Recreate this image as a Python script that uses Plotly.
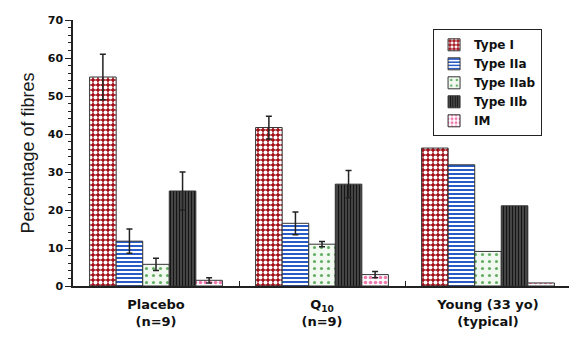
import plotly.graph_objects as go

categories = ["<b>Placebo</b><br><b>(n=9)</b>", "<b>Q<sub>10</sub></b><br><b>(n=9)</b>", "<b>Young (33 yo)</b><br><b>(typical)</b>"]
series_names = ["Type I", "Type IIa", "Type IIab", "Type IIb", "IM"]
type_i = [55.0, 41.7, 36.3]
type_iia = [11.8, 16.5, 31.9]
type_iiab = [5.7, 11.0, 9.1]
type_iib = [25.0, 26.8, 21.1]
im = [1.5, 3.0, 0.8]
# error bars only for Placebo and Q10 (Young is a single typical subject)
err_i = [6.0, 3.0]
err_iia = [3.2, 3.0]
err_iiab = [1.6, 0.7]
err_iib = [5.0, 3.6]
err_im = [0.7, 0.8]

values = [type_i, type_iia, type_iiab, type_iib, im]
errors = [err_i, err_iia, err_iiab, err_iib, err_im]
styles = [
    dict(shape=".", fgcolor="white", bgcolor="#a3101a", size=5, solidity=0.5),
    dict(shape="-", fgcolor="#2a5cc8", bgcolor="white", size=4, solidity=0.5),
    dict(shape=".", fgcolor="#62ad62", bgcolor="#f1f9f1", size=7, solidity=0.15),
    dict(shape="|", fgcolor="#151515", bgcolor="#4a4a4a", size=3, solidity=0.4),
    dict(shape=".", fgcolor="#f07ab0", bgcolor="white", size=5, solidity=0.4),
]

fig = go.Figure()
for name, vals, errs, st in zip(series_names, values, errors, styles):
    fig.add_trace(go.Bar(
        x=categories, y=vals, name="<b>" + name + "</b>",
        marker=dict(color=st["bgcolor"], line=dict(color="#333333", width=1),
                    pattern=dict(shape=st["shape"], fgcolor=st["fgcolor"], bgcolor=st["bgcolor"],
                                 size=st["size"], solidity=st["solidity"], fillmode="replace")),
        error_y=dict(type="data", array=errs, visible=True, color="#222222", thickness=1.5, width=3),
    ))

fig.update_layout(
    width=569, height=330,
    margin=dict(l=65, r=6, t=6, b=52),
    barmode="group", bargap=0.2, bargroupgap=0,
    plot_bgcolor="white", paper_bgcolor="white",
    font=dict(family="DejaVu Sans, Verdana, sans-serif", color="#111111"),
    legend=dict(x=0.723, y=0.965, xanchor="left", yanchor="top",
                bordercolor="#222222", borderwidth=1, bgcolor="white",
                font=dict(size=12, color="#111111"), tracegroupgap=0),
    xaxis=dict(range=[-0.5, 2.5], showline=True, linecolor="#222222", linewidth=1.5,
               ticks="inside", tickson="boundaries", ticklen=5, tickcolor="#222222",
               ticklabelstandoff=6,
               tickfont=dict(size=13, color="#111111")),
    yaxis=dict(range=[0, 70], dtick=10, showline=True, linecolor="#222222", linewidth=1.5,
               ticks="outside", ticklen=6, tickcolor="#222222", showgrid=False, zeroline=False,
               ticklabeloverflow="allow",
               tickfont=dict(size=11, color="#111111"), tickprefix="<b>", ticksuffix="</b>",
               minor=dict(dtick=2, ticks="outside", ticklen=3, tickcolor="#222222"),
               title=dict(text="Percentage of fibres",
                          font=dict(size=18, color="#1a1a1a", family="Liberation Sans, Arial, sans-serif"),
                          standoff=8)),
)

fig.write_html("out.html")
